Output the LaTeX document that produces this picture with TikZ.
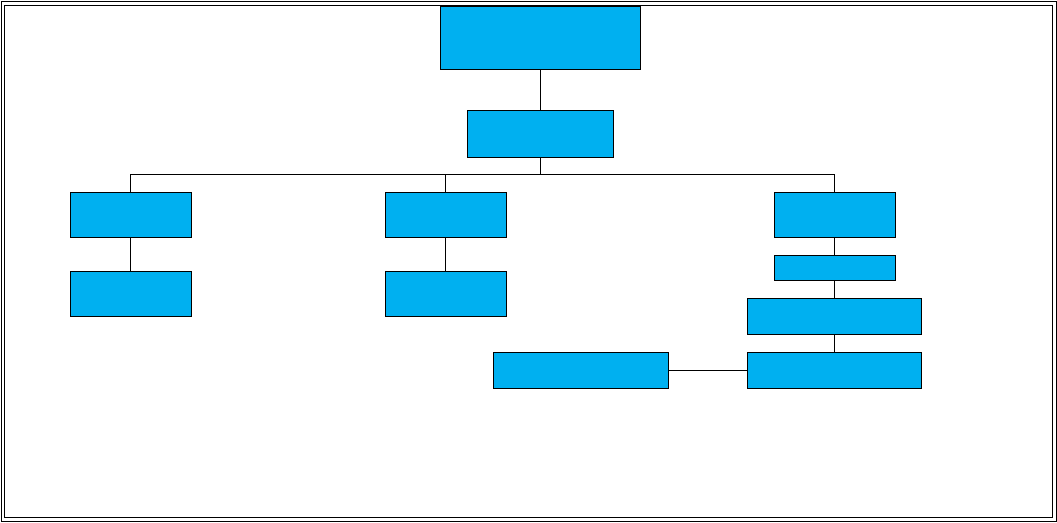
\documentclass[tikz,border=0pt]{standalone}
\usepackage{tikz}
\usepackage{xcolor}
\definecolor{boxblue}{HTML}{00B0F0}

\begin{document}
\begin{tikzpicture}[
            x=1pt,
            y=-1pt,
            line cap=rect,
            line join=miter,
            box/.style={draw=black, fill=boxblue, line width=1pt,
                        inner sep=0pt, anchor=center}
        ]

        % Page frame (double line)
        \useasboundingbox (0,0) rectangle (1057,522);
        \draw[line width=1pt] (1,1.5) rectangle (1056,521);
        \draw[line width=1pt] (4.5,5) rectangle (1052.5,517.5);

        % Top levels
        \node[box, minimum width=200pt, minimum height=63pt] (top) at (540,37.5) {};
        \node[box, minimum width=146pt, minimum height=47pt] (sub) at (540,133.5) {};

        % Left and middle branches
        \node[box, minimum width=121pt, minimum height=45pt] (left1) at (130.5,214.5) {};
        \node[box, minimum width=121pt, minimum height=45pt] (left2) at (130.5,293.5) {};
        \node[box, minimum width=121pt, minimum height=45pt] (mid1) at (445.5,214.5) {};
        \node[box, minimum width=121pt, minimum height=45pt] (mid2) at (445.5,293.5) {};

        % Right branch
        \node[box, minimum width=121pt, minimum height=45pt] (right1) at (834.5,214.5) {};
        \node[box, minimum width=121pt, minimum height=25pt] (right2) at (834.5,267.5) {};
        \node[box, minimum width=174pt, minimum height=36pt] (right3) at (834,316) {};
        \node[box, minimum width=174pt, minimum height=36pt] (right4) at (834,370) {};
        \node[box, minimum width=175pt, minimum height=36pt] (side) at (580.5,370) {};

        % Connectors
        \draw[line width=1pt] (top) -- (sub);
        \draw[line width=1pt] (sub.south) -- ++(0,17) -| (left1.north);
        \draw[line width=1pt] (sub.south) -- ++(0,17) -| (mid1.north);
        \draw[line width=1pt] (sub.south) -- ++(0,17) -| (right1.north);
        \draw[line width=1pt] (left1) -- (left2);
        \draw[line width=1pt] (mid1) -- (mid2);
        \draw[line width=1pt] (right1) -- (right2);
        \draw[line width=1pt] (right2.south) -- (right2.south |- right3.north);
        \draw[line width=1pt] (right3.south) -- (right3.south |- right4.north);
        \draw[line width=1pt] (side) -- (right4);

        \end{tikzpicture}
\end{document}
